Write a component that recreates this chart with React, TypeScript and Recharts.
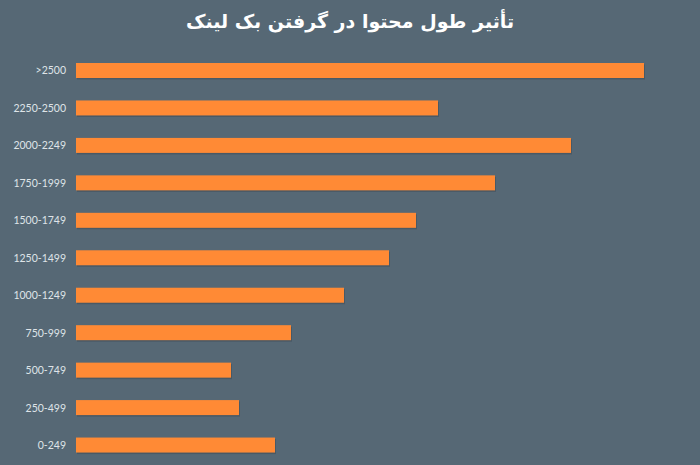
import { BarChart, Bar, XAxis, YAxis } from "recharts";

const categories = [
  ">2500",
  "2250-2500",
  "2000-2249",
  "1750-1999",
  "1500-1749",
  "1250-1499",
  "1000-1249",
  "750-999",
  "500-749",
  "250-499",
  "0-249",
];

const values = [568, 362, 495, 419, 340, 313, 268, 215, 155, 163, 199];

const title = "تأثیر طول محتوا در گرفتن بک لینک";

const data = categories.map((name, i) => ({ name, value: values[i] }));

// bar with a thin dark shadow on the lower right edge
function ShadowBar(props: any) {
  const { x, y, width, height } = props;
  if (!width || width <= 0) return null;
  return (
    <g>
      <rect x={x + 1} y={y + 1.5} width={width} height={height} fill="#3f4c57" opacity={0.55} />
      <rect x={x} y={y} width={width} height={height} fill="#ff8a35" />
    </g>
  );
}

export default function App() {
  return (
    <div
      style={{
        position: "absolute",
        left: 0,
        top: 0,
        width: 700,
        height: 465,
        background: "#566875",
        overflow: "hidden",
      }}
    >
      <div
        style={{
          position: "absolute",
          top: 10,
          left: 0,
          width: 700,
          textAlign: "center",
          color: "#ffffff",
          fontFamily: "'DejaVu Sans', sans-serif",
          fontWeight: 700,
          fontSize: 19,
          direction: "rtl",
        }}
      >
        {title}
      </div>
      <BarChart
        width={700}
        height={465}
        data={data}
        layout="vertical"
        margin={{ top: 52, right: 54, bottom: 1, left: 0 }}
        barCategoryGap={0}
      >
        <XAxis type="number" domain={[0, 570]} hide />
        <YAxis
          type="category"
          dataKey="name"
          width={76}
          axisLine={false}
          tickLine={false}
          tickMargin={4}
          interval={0}
          tick={{ fontSize: 10.5, fill: "#dfe4e8", fontFamily: "Lato, sans-serif" }}
        />
        <Bar dataKey="value" barSize={15} shape={<ShadowBar />} isAnimationActive={false} />
      </BarChart>
    </div>
  );
}
